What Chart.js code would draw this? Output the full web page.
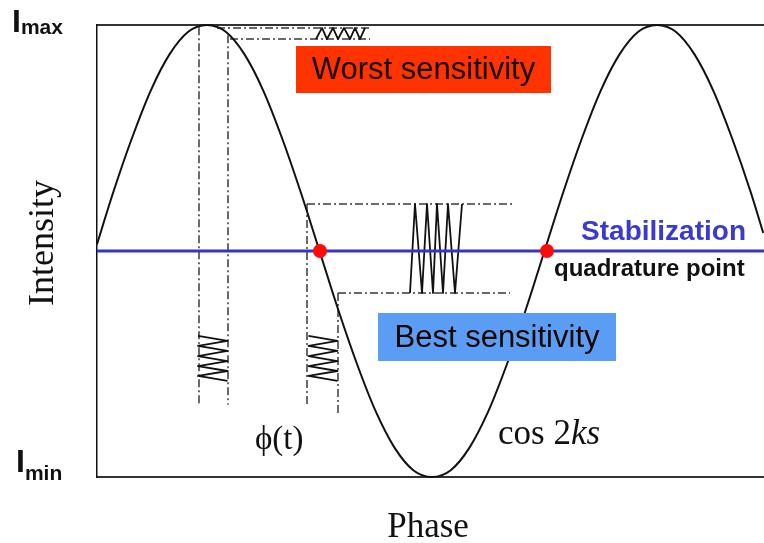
<!DOCTYPE html>
<html>
<head>
<meta charset="utf-8">
<script src="https://cdn.jsdelivr.net/npm/chart.js@4.4.1/dist/chart.umd.min.js"></script>
<style>
  html, body { margin: 0; padding: 0; background: #fff; }
  canvas { display: block; }
</style>
</head>
<body>
<canvas id="phaseChart" width="764" height="543"></canvas>
<script>
// phase in degrees, intensity normalised so Imin = -1 and Imax = 1
const phase = [2, 15, 30, 45, 60, 75, 90, 105, 120, 135, 150, 165, 180, 195, 210, 225, 240, 255,
  270, 285, 300, 315, 330, 345, 360, 375, 390, 405, 420, 435, 450, 465, 480, 495, 510, 525, 535];
const intensity = [0.03, 0.26, 0.5, 0.71, 0.87, 0.97, 1, 0.97, 0.87, 0.71, 0.5, 0.26, 0, -0.26,
  -0.5, -0.71, -0.87, -0.97, -1, -0.97, -0.87, -0.71, -0.5, -0.26, 0, 0.26, 0.5, 0.71, 0.87,
  0.97, 1, 0.97, 0.87, 0.71, 0.5, 0.26, 0.08];

// stabilisation level and the two quadrature points on it
const stabilisationLevel = 0;
const quadraturePhase = [180.4, 362];

// dash-dot guides, each [phaseStart, intensityStart, phaseEnd, intensityEnd]
const peakGuides = [
  [83.6, 0.99, 83.6, -0.68],
  [106.8, 0.955, 106.8, -0.68],
  [98, 0.987, 220.4, 0.987],
  [108.4, 0.938, 220.4, 0.938]
];
const slopeGuides = [
  [170, 0.208, 170, -0.681],
  [194.8, -0.186, 194.8, -0.726],
  [170, 0.208, 334.8, 0.208],
  [194.8, -0.186, 332.4, -0.186]
];

// phase jitter drawn as zigzags between the vertical guides
const peakJitterPhase = [82.8, 106.4];
const slopeJitterPhase = [171.2, 194.4];
const jitterRows = [-0.376, -0.398, -0.42, -0.442, -0.465, -0.487, -0.509, -0.531, -0.553, -0.575];

// resulting intensity ripple between the horizontal guides
const peakRipplePhase = [177.2, 182, 186, 190.8, 194.8, 199.6, 204.4, 208.4, 212.4, 216.4];
const peakRippleLevels = [0.938, 0.987];
const slopeRipplePhase = [252.4, 256.4, 262, 266, 270.8, 274, 278.8, 282.8, 288.4, 294];
const slopeRippleLevels = [-0.186, 0.208];

const zigzag = (xs, ys) => {
  const pts = [];
  const n = Math.max(xs.length, ys.length);
  for (let i = 0; i < n; i++) {
    pts.push({ x: xs.length === 2 ? xs[i % 2] : xs[i], y: ys.length === 2 ? ys[i % 2] : ys[i] });
  }
  return pts;
};

const plain = { pointRadius: 0, tension: 0, clip: false, fill: false };

const guideSets = peakGuides.concat(slopeGuides).map(g => ({
  ...plain,
  data: [{ x: g[0], y: g[1] }, { x: g[2], y: g[3] }],
  borderColor: '#3a3a3a',
  borderWidth: 1.5,
  borderDash: [8, 3, 2, 3]
}));

const zigSets = [
  zigzag(peakJitterPhase, jitterRows),
  zigzag(slopeJitterPhase, jitterRows),
  zigzag(peakRipplePhase, peakRippleLevels),
  zigzag(slopeRipplePhase, slopeRippleLevels)
].map(pts => ({ ...plain, data: pts, borderColor: '#111', borderWidth: 1.8, borderJoinStyle: 'round' }));

const datasets = [
  {
    ...plain,
    data: quadraturePhase.map(p => ({ x: p, y: stabilisationLevel })),
    showLine: false,
    pointRadius: 7,
    pointBackgroundColor: '#ff0a0a',
    pointBorderWidth: 0
  },
  {
    ...plain,
    data: [{ x: 2, y: stabilisationLevel }, { x: 535.6, y: stabilisationLevel }],
    borderColor: '#3434c8',
    borderWidth: 3
  },
  {
    ...plain,
    data: phase.map((p, i) => ({ x: p, y: intensity[i] })),
    borderColor: '#111',
    borderWidth: 2,
    cubicInterpolationMode: 'monotone'
  },
  ...zigSets,
  ...guideSets
];

const textPlugin = {
  id: 'phaseText',
  afterDatasetsDraw(chart) {
    const ctx = chart.ctx;
    ctx.save();

    const box = (x0, y0, x1, y1, fill, label) => {
      ctx.fillStyle = fill;
      ctx.fillRect(x0, y0, x1 - x0, y1 - y0);
      ctx.fillStyle = '#150800';
      ctx.font = '31px "Liberation Sans", Arial, sans-serif';
      ctx.textAlign = 'center';
      ctx.textBaseline = 'middle';
      ctx.fillText(label, (x0 + x1) / 2, (y0 + y1) / 2 + 1);
    };
    box(296, 46, 551, 93, '#ff3300', 'Worst sensitivity');
    box(378, 313, 616, 361, '#5b9cf4', 'Best sensitivity');

    ctx.textBaseline = 'alphabetic';
    ctx.textAlign = 'right';
    ctx.fillStyle = '#3a3ad0';
    ctx.font = 'bold 28px "Liberation Sans", Arial, sans-serif';
    ctx.fillText('Stabilization', 746, 240);

    ctx.textAlign = 'left';
    ctx.fillStyle = '#111';
    ctx.font = 'bold 24px "Liberation Sans", Arial, sans-serif';
    ctx.fillText('quadrature point', 554, 276);

    // Imax / Imin with subscripts
    const sub = (x, y, main, tail, dy) => {
      ctx.fillStyle = '#111';
      ctx.font = 'bold 32px "Liberation Sans", Arial, sans-serif';
      ctx.fillText(main, x, y);
      const w = ctx.measureText(main).width;
      ctx.font = 'bold 21px "Liberation Sans", Arial, sans-serif';
      ctx.fillText(tail, x + w, y + dy);
    };
    sub(12, 32, 'I', 'max', 2);
    sub(16, 472, 'I', 'min', 8);

    // serif annotations
    ctx.fillStyle = '#111';
    ctx.font = '33px "Liberation Serif", "Times New Roman", serif';
    ctx.fillText('\u03d5(t)', 255, 449);

    ctx.font = '35px "Liberation Serif", "Times New Roman", serif';
    ctx.fillText('cos 2', 498, 444);
    const w = ctx.measureText('cos 2').width;
    ctx.font = 'italic 35px "Liberation Serif", "Times New Roman", serif';
    ctx.fillText('ks', 498 + w, 444);

    ctx.font = '35px "Liberation Serif", "Times New Roman", serif';
    ctx.textAlign = 'center';
    ctx.fillText('Phase', 428, 537);

    ctx.translate(53, 243);
    ctx.rotate(-Math.PI / 2);
    ctx.font = '36px "Liberation Serif", "Times New Roman", serif';
    ctx.fillText('Intensity', 0, 0);

    ctx.restore();
  }
};

const hiddenAxis = {
  type: 'linear',
  display: true,
  ticks: { display: false },
  grid: { display: false, drawTicks: false, tickLength: 0 },
  title: { display: false }
};

new Chart(document.getElementById('phaseChart'), {
  type: 'line',
  data: { datasets: datasets },
  options: {
    responsive: false,
    animation: false,
    devicePixelRatio: 1,
    layout: { autoPadding: false, padding: { left: 97, top: 25, right: 0, bottom: 66 } },
    plugins: { legend: { display: false }, tooltip: { enabled: false } },
    scales: {
      x: { ...hiddenAxis, position: 'bottom', min: 2, max: 535.6, border: { color: '#333', width: 2 } },
      top: { ...hiddenAxis, position: 'top', min: 0, max: 1, border: { color: '#333', width: 2 } },
      y: { ...hiddenAxis, position: 'left', min: -1, max: 1, border: { color: '#111', width: 1.5 } }
    }
  },
  plugins: [textPlugin]
});
</script>
</body>
</html>
